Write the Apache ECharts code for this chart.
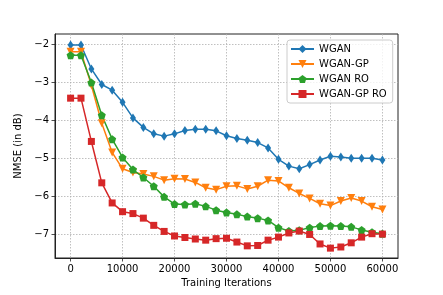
<!DOCTYPE html>
<html>
<head>
<meta charset="utf-8">
<script src="https://cdn.jsdelivr.net/npm/echarts@6/dist/echarts.min.js"></script>
<style>html,body{margin:0;padding:0;background:#fff;}#c{width:443px;height:295px;}</style>
</head>
<body>
<div id="c"></div>
<script>
var iterations = [0,2000,4000,6000,8000,10000,12000,14000,16000,18000,20000,22000,24000,26000,28000,30000,32000,34000,36000,38000,40000,42000,44000,46000,48000,50000,52000,54000,56000,58000,60000];
var wgan = [-2.02,-2.02,-2.65,-3.06,-3.21,-3.53,-3.94,-4.19,-4.36,-4.42,-4.36,-4.27,-4.24,-4.24,-4.28,-4.41,-4.48,-4.53,-4.59,-4.73,-5.03,-5.21,-5.28,-5.17,-5.05,-4.95,-4.97,-5.00,-5.00,-5.00,-5.05];
var wganGP = [-2.2,-2.2,-3.08,-4.08,-4.85,-5.28,-5.38,-5.42,-5.48,-5.58,-5.54,-5.55,-5.64,-5.78,-5.83,-5.74,-5.73,-5.81,-5.74,-5.58,-5.60,-5.78,-5.93,-6.06,-6.20,-6.25,-6.13,-6.05,-6.13,-6.28,-6.35];
var wganRO = [-2.29,-2.29,-3.01,-3.87,-4.50,-4.98,-5.30,-5.51,-5.74,-6.02,-6.21,-6.22,-6.20,-6.27,-6.37,-6.43,-6.48,-6.54,-6.58,-6.64,-6.83,-6.92,-6.90,-6.83,-6.79,-6.78,-6.79,-6.81,-6.89,-6.95,-6.99];
var wganGPRO = [-3.42,-3.42,-4.56,-5.65,-6.18,-6.41,-6.46,-6.58,-6.77,-6.93,-7.05,-7.09,-7.13,-7.16,-7.12,-7.11,-7.21,-7.31,-7.30,-7.16,-7.08,-6.97,-6.92,-7.01,-7.26,-7.37,-7.34,-7.23,-7.08,-6.99,-7.00];
var xTicks = [0,10000,20000,30000,40000,50000,60000];
var yTicks = [-7,-6,-5,-4,-3,-2];

function pairs(ys){ return iterations.map(function(x,i){ return [x, ys[i]]; }); }
var font = 'DejaVu Sans';
var chart = echarts.init(document.getElementById('c'), null, {renderer:'canvas'});
function mkSeries(name, data, color, symbol, size, rot){
  return {
    name: name, type: 'line', data: pairs(data),
    symbol: symbol, symbolSize: size, symbolRotate: rot || 0,
    lineStyle: {color: color, width: 1.5},
    itemStyle: {color: color, borderWidth: 0},
    emphasis: {disabled: true}, animation: false, z: 3
  };
}
chart.setOption({
  animation: false,
  textStyle: {fontFamily: font},
  grid: {left: 55, right: 45, top: 34, bottom: 37, show: true, borderColor: '#222', borderWidth: 1, backgroundColor: 'transparent'},
  xAxis: {
    type: 'value', min: -3000, max: 63000,
    name: 'Training Iterations', nameLocation: 'middle', nameGap: 19,
    nameTextStyle: {fontFamily: font, fontSize: 10, color: '#000'},
    axisLine: {show: true, onZero: false, lineStyle: {color: '#222', width: 1}},
    axisTick: {show: true, customValues: xTicks, length: 3.5, lineStyle: {color: '#222', width: 0.8}},
    axisLabel: {customValues: xTicks, fontFamily: font, fontSize: 10, color: '#000', margin: 6,
      formatter: function(v){ return String(v); }},
    splitLine: {show: true, lineStyle: {color: '#b0b0b0', type: [1.5, 1.5], width: 0.8}}
  },
  yAxis: {
    type: 'value', min: -7.63, max: -1.73,
    name: 'NMSE (in dB)', nameLocation: 'middle', nameGap: 22,
    nameTextStyle: {fontFamily: font, fontSize: 10, color: '#000'},
    axisLine: {show: true, onZero: false, lineStyle: {color: '#222', width: 1}},
    axisTick: {show: true, customValues: yTicks, length: 3.5, lineStyle: {color: '#222', width: 0.8}},
    axisLabel: {customValues: yTicks, fontFamily: font, fontSize: 10, color: '#000', margin: 6,
      formatter: function(v){ return v < 0 ? '\u2212' + Math.abs(v) : String(v); }},
    splitLine: {show: true, lineStyle: {color: '#b0b0b0', type: [1.5, 1.5], width: 0.8}}
  },
  legend: {
    orient: 'vertical', left: 287, top: 40,
    padding: [4, 6, 4, 3], itemGap: 5, itemWidth: 23, itemHeight: 10,
    borderColor: '#cccccc', borderWidth: 1, borderRadius: 3,
    backgroundColor: 'rgba(255,255,255,0.8)',
    textStyle: {fontFamily: font, fontSize: 10, color: '#000'},
    data: ['WGAN', 'WGAN-GP', 'WGAN RO', 'WGAN-GP RO']
  },
  series: [
    mkSeries('WGAN', wgan, '#1f77b4', 'diamond', [6, 9]),
    mkSeries('WGAN-GP', wganGP, '#ff7f0e', 'triangle', 8, 180),
    mkSeries('WGAN RO', wganRO, '#2ca02c', 'path://M0,-1L0.951,-0.309L0.588,0.809L-0.588,0.809L-0.951,-0.309Z', 8),
    mkSeries('WGAN-GP RO', wganGPRO, '#d62728', 'rect', 7)
  ]
});
</script>
</body>
</html>
